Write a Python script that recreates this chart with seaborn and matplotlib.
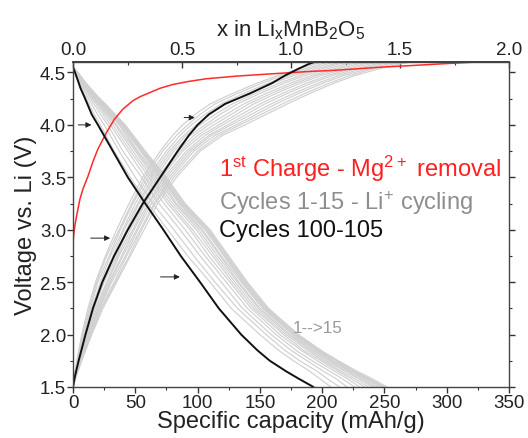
import pandas as pd
import seaborn as sns
import matplotlib.pyplot as plt
from matplotlib.ticker import MultipleLocator, FixedLocator

# 1st charge - Mg2+ removal (red)
red_cap = [0, 0.5, 1.5, 3, 5.5, 8, 12, 16, 20, 27, 33, 40, 48, 54, 62, 70, 80, 93, 107, 131,
           150, 170, 190, 209, 228, 246, 270, 300, 324]
red_v = [2.87, 2.95, 3.04, 3.14, 3.29, 3.39, 3.51, 3.65, 3.77, 3.93, 4.05, 4.15, 4.23,
         4.27, 4.31, 4.35, 4.385, 4.415, 4.44, 4.465, 4.48, 4.495, 4.51, 4.52, 4.535, 4.55,
         4.565, 4.585, 4.6]

# voltage levels at which the charge / discharge capacities were read
chg_v = [1.5, 1.6, 1.75, 2.0, 2.25, 2.5, 2.75, 3.0, 3.25, 3.5, 3.75, 3.9, 4.0, 4.1, 4.2, 4.3,
         4.4, 4.47, 4.53, 4.58, 4.6]
dis_v = [4.55, 4.5, 4.42, 4.35, 4.27, 4.2, 4.1, 4.0, 3.75, 3.5, 3.25, 3.0, 2.75, 2.5, 2.25,
         2.0, 1.85, 1.75, 1.65, 1.58, 1.5]

# cycles 100-105 (black)
blk_chg_cap = [0, 1.5, 4.5, 10, 16, 23.5, 33, 44, 56, 70, 84, 93, 100, 109, 122, 142, 160,
               170, 180, 189, 194]
blk_dis_cap = [0, 1.6, 4, 6, 9, 11.5, 15, 20, 32, 44, 58, 72.5, 86.5, 102, 117, 135, 148,
               158, 171, 181, 193]

# cycles 1-15 (grey)
gry_chg_cap = [
    [0, 1.0, 3.0, 7.0, 12, 18, 26, 35, 45, 56, 70, 80, 88, 98, 110, 128, 148, 164, 180, 194, 200],
    [0, 1.1, 3.3, 7.6, 13, 19, 27, 37, 47, 58, 72, 83, 92, 102, 114, 132, 152, 168, 185, 199, 205],
    [0, 1.2, 3.6, 8.1, 14, 20, 29, 38, 48, 60, 75, 86, 95, 106, 119, 137, 157, 173, 189, 204, 210],
    [0, 1.3, 3.9, 8.7, 15, 22, 30, 40, 50, 62, 77, 89, 99, 110, 123, 141, 161, 177, 194, 209, 215],
    [0, 1.4, 4.1, 9.3, 15, 23, 32, 41, 52, 64, 79, 91, 102, 114, 128, 146, 166, 182, 198, 213, 221],
    [0, 1.5, 4.4, 9.9, 16, 24, 33, 43, 53, 66, 81, 94, 106, 118, 132, 150, 170, 186, 203, 218, 226],
    [0, 1.6, 4.7, 10.4, 17, 25, 35, 44, 55, 68, 84, 97, 109, 123, 137, 155, 175, 191, 208, 223, 231],
    [0, 1.8, 5.0, 11.0, 18, 27, 36, 46, 57, 70, 86, 100, 113, 127, 141, 159, 179, 195, 212, 228, 236],
    [0, 1.9, 5.3, 11.6, 19, 28, 37, 48, 58, 71, 88, 103, 117, 131, 145, 163, 183, 199, 217, 233, 241],
    [0, 2.0, 5.6, 12.1, 20, 29, 39, 49, 60, 73, 91, 106, 120, 135, 150, 168, 188, 204, 221, 238, 246],
    [0, 2.1, 5.9, 12.7, 21, 30, 40, 51, 61, 75, 93, 109, 124, 139, 154, 172, 192, 208, 226, 243, 251],
    [0, 2.2, 6.1, 13.3, 21, 31, 42, 52, 63, 77, 95, 111, 127, 143, 159, 177, 197, 213, 230, 247, 257],
    [0, 2.3, 6.4, 13.9, 22, 33, 43, 54, 65, 79, 97, 114, 131, 147, 163, 181, 201, 217, 235, 252, 262],
    [0, 2.4, 6.7, 14.4, 23, 34, 45, 55, 66, 81, 100, 117, 134, 151, 168, 186, 206, 222, 239, 257, 267],
    [0, 2.5, 7.0, 15.0, 24, 35, 46, 57, 68, 83, 102, 120, 138, 155, 172, 190, 210, 226, 244, 262, 272],
]
gry_dis_cap = [
    [0, 2.0, 4.5, 7.0, 10.0, 13.0, 17.0, 22, 33, 46, 60, 76, 92, 110, 127, 150, 165, 177, 190, 198, 207],
    [0, 2.3, 5.2, 8.1, 11.5, 15.0, 19.6, 25, 37, 50, 64, 81, 97, 114, 132, 155, 170, 182, 196, 204, 214],
    [0, 2.6, 5.9, 9.1, 13.0, 16.9, 22.1, 28, 40, 55, 69, 86, 102, 119, 136, 159, 175, 188, 201, 211, 220],
    [0, 2.8, 6.4, 9.9, 14.2, 18.5, 24.1, 30, 44, 58, 73, 90, 106, 123, 140, 163, 179, 192, 206, 216, 226],
    [0, 3.0, 6.8, 10.6, 15.2, 19.8, 25.8, 32, 46, 61, 76, 94, 109, 126, 143, 166, 183, 196, 210, 220, 230],
    [0, 3.2, 7.2, 11.2, 16.0, 20.8, 27.2, 34, 48, 63, 78, 96, 112, 128, 145, 169, 185, 199, 213, 223, 234],
    [0, 3.3, 7.5, 11.7, 16.7, 21.7, 28.4, 35, 50, 65, 80, 99, 114, 130, 147, 171, 188, 201, 215, 226, 237],
    [0, 3.5, 7.8, 12.1, 17.3, 22.5, 29.4, 37, 51, 67, 82, 101, 116, 132, 149, 173, 190, 203, 218, 229, 240],
    [0, 3.6, 8.0, 12.5, 17.8, 23.1, 30.3, 38, 52, 69, 83, 103, 118, 133, 150, 174, 192, 205, 220, 231, 242],
    [0, 3.7, 8.2, 12.8, 18.3, 23.8, 31.1, 39, 54, 70, 85, 104, 119, 135, 152, 176, 193, 207, 222, 233, 244],
    [0, 3.7, 8.4, 13.1, 18.7, 24.3, 31.8, 39, 55, 71, 86, 106, 121, 136, 153, 177, 195, 208, 223, 235, 246],
    [0, 3.8, 8.6, 13.3, 19.0, 24.7, 32.3, 40, 56, 72, 87, 107, 122, 137, 154, 178, 196, 209, 224, 236, 248],
    [0, 3.9, 8.7, 13.5, 19.3, 25.1, 32.8, 41, 56, 73, 88, 108, 123, 138, 155, 179, 197, 211, 225, 237, 249],
    [0, 3.9, 8.8, 13.7, 19.6, 25.5, 33.3, 41, 57, 74, 89, 109, 124, 139, 156, 180, 198, 212, 227, 238, 250],
    [0, 4.0, 9.0, 14.0, 20.0, 26.0, 34.0, 42, 58, 75, 90, 110, 125, 140, 157, 181, 199, 213, 228, 240, 252],
]

# arrows (tail cap, head cap, voltage)
arrows = [(2, 17, 4.0), (87, 100, 4.07), (12, 32, 2.92), (68, 88, 2.55)]

top_ticks = [0.0, 0.5, 1.0, 1.5, 2.0]

sns.set_theme(style='ticks')
plt.rcParams['font.family'] = ['Liberation Sans', 'DejaVu Sans']
plt.rcParams['mathtext.fontset'] = 'custom'
plt.rcParams['mathtext.rm'] = 'Liberation Sans'
plt.rcParams['mathtext.default'] = 'regular'

rows = []
for i, caps in enumerate(gry_chg_cap):
    for c, v in zip(caps, chg_v):
        rows.append(('chg%d' % i, c, v))
for i, caps in enumerate(gry_dis_cap):
    for c, v in zip(caps, dis_v):
        rows.append(('dis%d' % i, c, v))
gray_df = pd.DataFrame(rows, columns=['curve', 'cap', 'V'])

fig = plt.figure(figsize=(5.28, 4.39), dpi=100)
ax = fig.add_axes([0.1383, 0.1162, 0.8258, 0.7403])

sns.lineplot(data=gray_df, x='cap', y='V', units='curve', estimator=None, sort=False,
             color='#d0d0d0', lw=0.85, ax=ax)
sns.lineplot(x=red_cap, y=red_v, sort=False, estimator=None, color='#ff2a2a', lw=1.1, ax=ax)
sns.lineplot(x=blk_chg_cap, y=chg_v, sort=False, estimator=None, color='#111111', lw=1.4, ax=ax)
sns.lineplot(x=blk_dis_cap, y=dis_v, sort=False, estimator=None, color='#111111', lw=1.4, ax=ax)

for x0, x1, v in arrows:
    ax.annotate('', xy=(x1, v), xytext=(x0, v),
                arrowprops=dict(arrowstyle='-|>', color='#222222', lw=0.7, mutation_scale=8))

ax.text(117, 3.515, '1$^{st}$ Charge - Mg$^{2+}$ removal', color='#ff2020', fontsize=17)
ax.text(117, 3.20, 'Cycles 1-15 - Li$^{+}$ cycling', color='#8e8e8e', fontsize=17)
ax.text(117, 2.943, 'Cycles 100-105', color='#111111', fontsize=17)
ax.text(176, 2.026, '1-->15', color='#9a9a9a', fontsize=12.3)

ax.set_xlim(0, 350)
ax.set_ylim(1.5, 4.6)
ax.xaxis.set_major_locator(MultipleLocator(50))
ax.xaxis.set_minor_locator(MultipleLocator(25))
ax.yaxis.set_major_locator(MultipleLocator(0.5))
ax.yaxis.set_minor_locator(MultipleLocator(0.25))
ax.tick_params(which='both', direction='out', right=True, top=False, colors='#333333',
               labelsize=13.5, pad=1, labelcolor='#222222')
ax.tick_params(which='major', length=4, width=1)
ax.tick_params(which='minor', length=2.5, width=0.8)
for s in ax.spines.values():
    s.set_color('#444444')
    s.set_linewidth(1)
    s.set_visible(True)

ax.set_xlabel('Specific capacity (mAh/g)', fontsize=17, labelpad=-1, color='#222222')
ax.set_ylabel('Voltage vs. Li (V)', fontsize=17, labelpad=2, color='#222222')

top = ax.secondary_xaxis('top', functions=(lambda c: c / 175, lambda x: x * 175))
top.xaxis.set_major_locator(FixedLocator(top_ticks))
top.xaxis.set_minor_locator(FixedLocator([0.25, 0.75, 1.25, 1.75]))
top.xaxis.set_major_formatter(plt.FormatStrFormatter('%.1f'))
top.tick_params(which='both', direction='in', colors='#333333', labelsize=13.5, pad=3,
                labelcolor='#222222')
top.tick_params(which='major', length=4, width=1)
top.tick_params(which='minor', length=2.5, width=0.8)
top.set_xlabel('x in Li$_x$MnB$_2$O$_5$', fontsize=16, labelpad=4, color='#222222')

fig.savefig('out.png', dpi=100)
